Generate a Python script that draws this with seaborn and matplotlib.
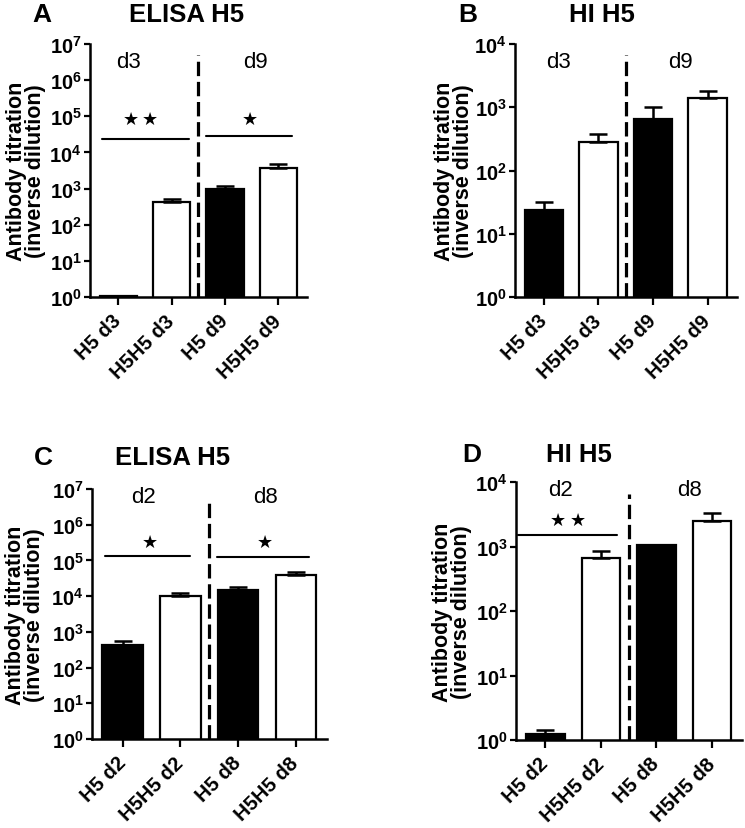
import numpy as np
import pandas as pd
import matplotlib
matplotlib.use("Agg")
import matplotlib.pyplot as plt
import seaborn as sns
from matplotlib.ticker import FixedLocator, FuncFormatter, NullLocator

# ---------------- data ----------------
a_labels = ["H5 d3", "H5H5 d3", "H5 d9", "H5H5 d9"]
a_mean = [1.1, 420, 950, 3800]
a_err = [0, 90, 220, 1100]

b_labels = ["H5 d3", "H5H5 d3", "H5 d9", "H5H5 d9"]
b_mean = [24, 280, 650, 1400]
b_err = [8, 100, 360, 400]

c_labels = ["H5 d2", "H5H5 d2", "H5 d8", "H5H5 d8"]
c_mean = [420, 10000, 15000, 40000]
c_err = [130, 2300, 3500, 8500]

d_labels = ["H5 d2", "H5H5 d2", "H5 d8", "H5H5 d8"]
d_mean = [1.22, 660, 1070, 2450]
d_err = [0.2, 190, 0, 800]

bar_colors = ["black", "white", "black", "white"]
ylabel = "Antibody titration\n(inverse dilution)"

# ---------------- style ----------------
sns.set_style("ticks")
plt.rcParams["font.family"] = ["Liberation Sans", "DejaVu Sans"]
plt.rcParams["mathtext.fontset"] = "custom"
plt.rcParams["mathtext.rm"] = "Liberation Sans"
plt.rcParams["mathtext.bf"] = "Liberation Sans:bold"
for k in ["text.color", "axes.labelcolor", "xtick.color", "ytick.color",
          "axes.edgecolor"]:
    plt.rcParams[k] = "black"

W, H = 745, 829
fig = plt.figure(figsize=(W / 100, H / 100), dpi=100)


def px_rect(left, right, top, bottom):
    return [left / W, 1 - bottom / H, (right - left) / W, (bottom - top) / H]


def draw_panel(rect, labels, mean, err, ymax_exp, ylab_x, groups, sigs, stars):
    ax = fig.add_axes(rect)
    df = pd.DataFrame({"label": labels, "value": mean})
    sns.barplot(data=df, x="label", y="value", hue="label", palette=bar_colors,
                legend=False, width=0.7, edgecolor="black", linewidth=1.6,
                errorbar=None, ax=ax, zorder=2)
    ax.set_yscale("log")
    xs = np.arange(len(labels))
    ax.errorbar(xs, mean, yerr=[np.zeros(len(err)), err], fmt="none",
                ecolor="black", elinewidth=1.8, capsize=6.5, capthick=1.8, zorder=3)
    ax.set_ylim(1, 10 ** ymax_exp)
    ax.set_xlim(-0.53, 3.54)
    ax.yaxis.set_major_locator(FixedLocator([10 ** k for k in range(ymax_exp + 1)]))
    ax.yaxis.set_minor_locator(NullLocator())
    ax.yaxis.set_major_formatter(FuncFormatter(
        lambda v, p: r"$\mathbf{10^{%d}}$" % int(round(np.log10(v)))))
    for s in ["top", "right"]:
        ax.spines[s].set_visible(False)
    for s in ["left", "bottom"]:
        ax.spines[s].set_linewidth(1.8)
        ax.spines[s].set_color("black")
    ax.tick_params(axis="y", length=4.5, width=1.6, pad=1.5, labelsize=14.5,
                   colors="black")
    ax.tick_params(axis="x", length=5.8, width=1.6, pad=9, labelsize=14.5,
                   colors="black")
    ax.set_xticks(xs)
    ax.set_xticklabels(labels, rotation=45, ha="right", rotation_mode="anchor",
                       fontweight="bold", va="center")
    ax.set_xlabel("")
    ax.set_ylabel(ylabel, fontsize=15.5, fontweight="bold", linespacing=0.9,
                  color="black")
    ax.yaxis.label.set_verticalalignment("center")
    ax.yaxis.set_label_coords(ylab_x, 0.5)
    # dashed separator
    ax.plot([1.5, 1.5], [0, 0.955], transform=ax.get_xaxis_transform(),
            color="black", lw=2.3, ls=(0, (4.5, 1.8)), clip_on=False, zorder=4)
    # group labels
    for txt, gx, gy in groups:
        ax.text(gx, gy, txt, transform=ax.get_xaxis_transform(), ha="center",
                va="center", fontsize=16, color="black")
    for x0, x1, y in sigs:
        ax.plot([x0, x1], [y, y], color="black", lw=1.5, zorder=4)
    for sx, sy in stars:
        ax.text(sx, sy, "\u2605", ha="center", va="center", fontsize=13,
                family=["DejaVu Sans"], color="black")
    return ax


draw_panel(px_rect(90, 307, 45, 298), a_labels, a_mean, a_err, 7, -0.295,
           [("d3", 0.2, 0.93), ("d9", 2.58, 0.93)],
           [(-0.3, 1.32, 24000), (1.64, 3.25, 29000)],
           [(0.23, 85000), (0.6, 85000), (2.47, 85000)])
draw_panel(px_rect(515, 737, 45, 298), b_labels, b_mean, b_err, 4, -0.275,
           [("d3", 0.26, 0.93), ("d9", 2.5, 0.93)], [], [])
draw_panel(px_rect(92, 327, 490, 740), c_labels, c_mean, c_err, 7, -0.285,
           [("d2", 0.36, 0.968), ("d8", 2.47, 0.968)],
           [(-0.31, 1.17, 1.3e5), (1.64, 3.22, 1.25e5)],
           [(0.48, 3.3e5), (2.47, 3.3e5)])
draw_panel(px_rect(516, 742, 483, 741), d_labels, d_mean, d_err, 4, -0.283,
           [("d2", 0.27, 0.97), ("d8", 2.6, 0.97)],
           [(-0.5, 1.29, 1520)],
           [(0.22, 2600), (0.59, 2600)])

# panel letters and titles
for letter, lx, ly in [("A", 42, 15), ("B", 468, 15), ("C", 43, 458), ("D", 472, 455)]:
    fig.text(lx / W, 1 - ly / H, letter, ha="center", va="center",
             fontsize=19, fontweight="bold", color="black")
for title, tx, ty in [("ELISA H5", 187, 15), ("HI H5", 602, 15),
                      ("ELISA H5", 173, 458), ("HI H5", 579, 455)]:
    fig.text(tx / W, 1 - ty / H, title, ha="center", va="center",
             fontsize=18.5, fontweight="bold", color="black")

fig.savefig("out.png", dpi=100)
